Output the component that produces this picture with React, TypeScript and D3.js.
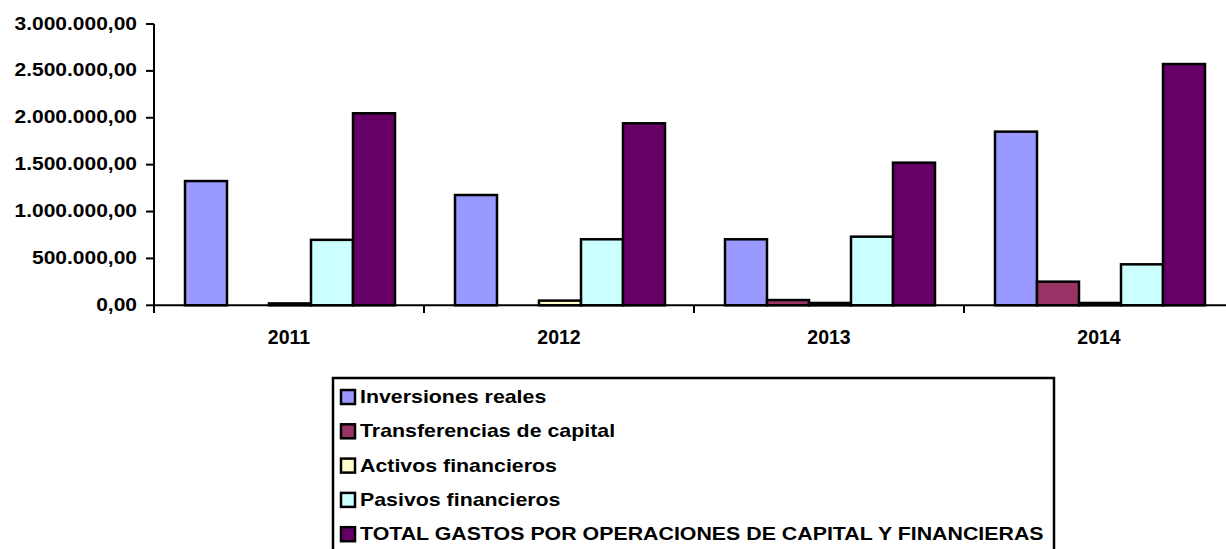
import React from "react";
import * as d3 from "d3";

const categories = ["2011", "2012", "2013", "2014"];
const seriesNames = [
  "Inversiones reales",
  "Transferencias de capital",
  "Activos financieros",
  "Pasivos financieros",
  "TOTAL GASTOS POR OPERACIONES DE CAPITAL Y FINANCIERAS",
];
const seriesColors = ["#9999FF", "#993366", "#FFFFCC", "#CCFFFF", "#660066"];
const inversionesReales = [1325000, 1176000, 704000, 1852000];
const transferenciasCapital = [0, 0, 56000, 252000];
const activosFinancieros = [20000, 50000, 25000, 25000];
const pasivosFinancieros = [698000, 704000, 732000, 437000];
const totalGastos = [2048000, 1941000, 1521000, 2573000];
const yTicks = [0, 500000, 1000000, 1500000, 2000000, 2500000, 3000000];

const seriesValues = [
  inversionesReales,
  transferenciasCapital,
  activosFinancieros,
  pasivosFinancieros,
  totalGastos,
];

const fmt = (v: number) => {
  const s = Math.round(v).toString().replace(/\B(?=(\d{3})+(?!\d))/g, ".");
  return s + ",00";
};

export default function App() {
  const W = 1226;
  const H = 549;
  const x0 = 154;
  const catW = 270;
  const x = d3
    .scaleBand<string>()
    .domain(categories)
    .range([x0, x0 + catW * categories.length])
    .paddingInner(0)
    .paddingOuter(0);
  const inner = d3
    .scaleBand<number>()
    .domain(d3.range(seriesNames.length))
    .range([31, 31 + 42 * 5]);
  const y = d3.scaleLinear().domain([0, 3000000]).range([305.3, 24]);
  const font = "'Liberation Sans', Arial, sans-serif";

  return (
    <svg
      width={W}
      height={H}
      style={{ position: "absolute", left: 0, top: 0, background: "#fff" }}
    >
      {/* bars */}
      {categories.map((c, ci) => (
        <g key={c}>
          {seriesValues.map((vals, si) => {
            const v = vals[ci];
            if (v <= 0) return null;
            const bx = (x(c) as number) + (inner(si) as number);
            const by = y(v);
            return (
              <rect
                key={si}
                x={bx}
                y={by}
                width={inner.bandwidth()}
                height={y(0) - by}
                fill={seriesColors[si]}
                stroke="#000"
                strokeWidth={2.5}
              />
            );
          })}
        </g>
      ))}
      {/* y axis */}
      <line x1={x0} x2={x0} y1={y(3000000)} y2={313} stroke="#000" strokeWidth={2} />
      {yTicks.map((t) => (
        <g key={t}>
          <line x1={146} x2={x0} y1={y(t)} y2={y(t)} stroke="#000" strokeWidth={2} />
          <text
            transform={`translate(137,${y(t) + 5.5}) scale(1.2,1)`}
            textAnchor="end"
            fontFamily={font}
            fontWeight="bold"
            fontSize={17.5}
            fill="#000"
          >
            {fmt(t)}
          </text>
        </g>
      ))}
      {/* x axis */}
      <line x1={x0} x2={x0 + catW * 4} y1={y(0)} y2={y(0)} stroke="#000" strokeWidth={2} />
      {categories.map((c, i) => (
        <g key={c}>
          {i > 0 && (
            <line
              x1={x(c) as number}
              x2={x(c) as number}
              y1={y(0)}
              y2={313}
              stroke="#000"
              strokeWidth={2}
            />
          )}
          <text
            x={(x(c) as number) + x.bandwidth() / 2}
            y={343.5}
            textAnchor="middle"
            fontFamily={font}
            fontWeight="bold"
            fontSize={19.5}
            fill="#000"
          >
            {c}
          </text>
        </g>
      ))}
      {/* legend */}
      <rect x={333} y={378} width={721} height={200} fill="#fff" stroke="#000" strokeWidth={2.5} />
      {seriesNames.map((n, i) => {
        const base = 403 + i * 34.3;
        return (
          <g key={n}>
            <rect
              x={341}
              y={base - 13}
              width={14}
              height={14}
              fill={seriesColors[i]}
              stroke="#000"
              strokeWidth={2.5}
            />
            <text
              transform={`translate(360,${base}) scale(1.22,1)`}
              fontFamily={font}
              fontWeight="bold"
              fontSize={17.5}
              fill="#000"
            >
              {n}
            </text>
          </g>
        );
      })}
    </svg>
  );
}
